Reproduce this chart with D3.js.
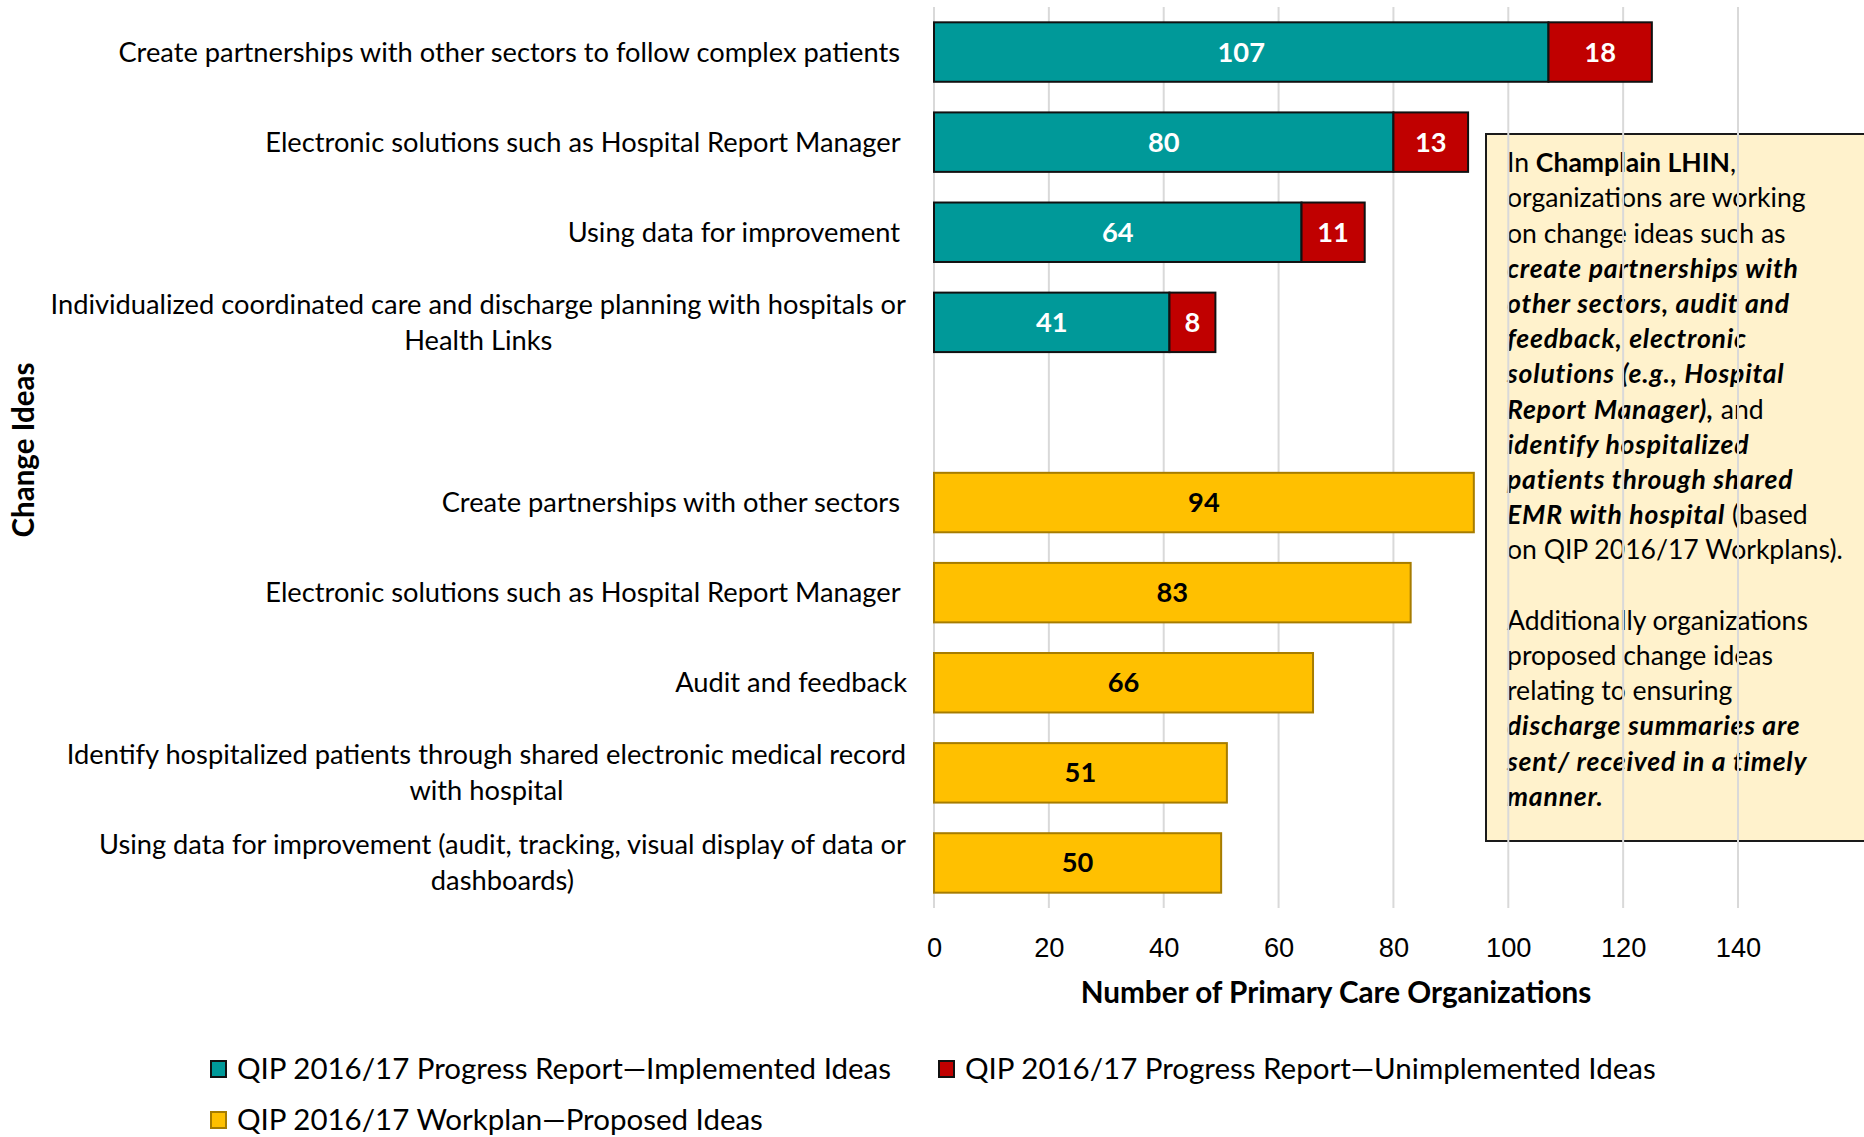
<!DOCTYPE html>
<html>
<head>
<meta charset="utf-8">
<script src="https://cdn.jsdelivr.net/npm/d3@7"></script>
<style>
body{margin:0;background:#fff;}
svg{display:block;font-family:Lato,"Open Sans",sans-serif;}
.cat text{white-space:pre;}
</style>
</head>
<body>
<div id="chart"></div>
<script>
// progress report ideas (teal + red stacked); trailing spaces kept as in the source labels
var progressIdeas = [
    "Create partnerships with other sectors to follow complex patients ",
    "Electronic solutions such as Hospital Report Manager ",
    "Using data for improvement ",
    "Individualized coordinated care and discharge planning with hospitals or\nHealth Links"
];
var implemented = [107, 80, 64, 41];
var unimplemented = [18, 13, 11, 8];

// workplan ideas (yellow)
var workplanIdeas = [
    "Create partnerships with other sectors ",
    "Electronic solutions such as Hospital Report Manager ",
    "Audit and feedback",
    "Identify hospitalized patients through shared electronic medical record\nwith hospital",
    "Using data for improvement (audit, tracking, visual display of data or\ndashboards)"
];
var proposed = [94, 83, 66, 51, 50];

var xTicks = [0, 20, 40, 60, 80, 100, 120, 140];
var legendLabels = [
    "QIP 2016/17 Progress Report\u2014Implemented Ideas",
    "QIP 2016/17 Progress Report\u2014Unimplemented Ideas",
    "QIP 2016/17 Workplan\u2014Proposed Ideas"
];
var xTitle = "Number of Primary Care Organizations";
var yTitle = "Change Ideas";

// text box, each line is a list of [text, style] pieces (b = bold, bi = bold italic)
var noteLines = [
    [["In ", ""], ["Champlain LHIN", "b"], [",", ""]],
    [["organizations are working", ""]],
    [["on change ideas such as", ""]],
    [["create partnerships with", "bi"]],
    [["other sectors, audit and", "bi"]],
    [["feedback, electronic", "bi"]],
    [["solutions  (e.g., Hospital", "bi"]],
    [["Report Manager),", "bi"], [" and", ""]],
    [["identify hospitalized", "bi"]],
    [["patients through shared", "bi"]],
    [["EMR with hospital", "bi"], [" (based", ""]],
    [["on QIP 2016/17 Workplans).", ""]],
    [],
    [["Additionally organizations", ""]],
    [["proposed change ideas", ""]],
    [["relating to ensuring", ""]],
    [["discharge summaries are", "bi"]],
    [["sent/ received in a timely", "bi"]],
    [["manner.", "bi"]]
];

var colors = {impl: "#009999", unimpl: "#C00000", prop: "#FFC000"};

var W = 1864, H = 1137;
var svg = d3.select("#chart").append("svg").attr("width", W).attr("height", H);

function textWidth(text, size, weight){
    var t = svg.append("text").attr("class", "cat").attr("font-size", size).attr("font-weight", weight || "normal")
        .style("white-space", "pre").text(text);
    var w = t.node().getComputedTextLength();
    t.remove();
    return w;
}
function fitSize(text, weight, target){
    return 100 * target / textWidth(text, 100, weight);
}

var catSize = fitSize("Create partnerships with other sectors to follow complex patients", "normal", 782);
var noteSize = fitSize(noteLines[11][0][0], "normal", 336);
var legSize = fitSize(legendLabels[1], "normal", 691);
var xTitleSize = fitSize(xTitle, "bold", 511);
var yTitleSize = fitSize(yTitle, "bold", 175);

// rows: progress ideas, a blank row, workplan ideas
var rows = [];
progressIdeas.forEach(function(d, i){ rows.push({key: "p" + i, label: d, group: "p", a: implemented[i], b: unimplemented[i]}); });
rows.push({key: "gap", label: "", group: "gap"});
workplanIdeas.forEach(function(d, i){ rows.push({key: "w" + i, label: d, group: "w", a: proposed[i]}); });

var x = d3.scaleLinear().domain([0, 140]).range([934, 1738]);
var y = d3.scaleBand().domain(rows.map(function(d){ return d.key; }))
    .range([7, 908]).paddingInner(0.34).paddingOuter(0.17);

// note box (gridlines run over it in the original)
var note = svg.append("g");
note.append("rect").attr("x", 1486).attr("y", 134).attr("width", 400).attr("height", 707)
    .attr("fill", "#FFF2CC").attr("stroke", "#1a1a1a").attr("stroke-width", 2);
var noteText = note.append("text").attr("font-size", noteSize).attr("fill", "#000");
noteLines.forEach(function(line, i){
    var first = true;
    line.forEach(function(seg){
        var ts = noteText.append("tspan").text(seg[0])
            .attr("font-weight", seg[1] ? "bold" : "normal")
            .attr("font-style", seg[1] == "bi" ? "italic" : "normal")
            .attr("letter-spacing", seg[1] == "bi" ? 0.8 : 0);
        if (first){
            ts.attr("x", 1507).attr("y", 163 + i * 35.2).attr("dy", "0.35em");
            first = false;
        }
    });
});

// gridlines
svg.append("g").selectAll("line").data(xTicks).enter().append("line")
    .attr("x1", function(d){ return x(d); }).attr("x2", function(d){ return x(d); })
    .attr("y1", 7).attr("y2", 908)
    .attr("stroke", "#D9D9D9").attr("stroke-width", 2);

// bars
var bars = svg.append("g");
var pRows = rows.filter(function(d){ return d.group == "p"; });
var wRows = rows.filter(function(d){ return d.group == "w"; });

bars.selectAll(".impl").data(pRows).enter().append("rect").attr("class", "impl")
    .attr("x", x(0)).attr("y", function(d){ return y(d.key); })
    .attr("width", function(d){ return x(d.a) - x(0); }).attr("height", y.bandwidth())
    .attr("fill", colors.impl).attr("stroke", "#111").attr("stroke-width", 2);
bars.selectAll(".unimpl").data(pRows).enter().append("rect").attr("class", "unimpl")
    .attr("x", function(d){ return x(d.a); }).attr("y", function(d){ return y(d.key); })
    .attr("width", function(d){ return x(d.a + d.b) - x(d.a); }).attr("height", y.bandwidth())
    .attr("fill", colors.unimpl).attr("stroke", "#111").attr("stroke-width", 2);
bars.selectAll(".prop").data(wRows).enter().append("rect").attr("class", "prop")
    .attr("x", x(0)).attr("y", function(d){ return y(d.key); })
    .attr("width", function(d){ return x(d.a) - x(0); }).attr("height", y.bandwidth())
    .attr("fill", colors.prop).attr("stroke", "#A67C00").attr("stroke-width", 2);

// value labels
var labs = svg.append("g").attr("font-weight", "bold").attr("font-size", catSize).attr("text-anchor", "middle");
labs.selectAll(".li").data(pRows).enter().append("text")
    .attr("x", function(d){ return x(d.a / 2); }).attr("y", function(d){ return y(d.key) + y.bandwidth() / 2; })
    .attr("dy", "0.35em").attr("fill", "#fff").text(function(d){ return d.a; });
labs.selectAll(".lu").data(pRows).enter().append("text")
    .attr("x", function(d){ return x(d.a + d.b / 2); }).attr("y", function(d){ return y(d.key) + y.bandwidth() / 2; })
    .attr("dy", "0.35em").attr("fill", "#fff").text(function(d){ return d.b; });
labs.selectAll(".lp").data(wRows).enter().append("text")
    .attr("x", function(d){ return x(d.a / 2); }).attr("y", function(d){ return y(d.key) + y.bandwidth() / 2; })
    .attr("dy", "0.35em").attr("fill", "#000").text(function(d){ return d.a; });

// category labels
var cats = svg.append("g").attr("class", "cat").attr("font-size", catSize).attr("fill", "#000");
rows.forEach(function(r){
    if (!r.label) return;
    var lines = r.label.split("\n");
    var cy = y(r.key) + y.bandwidth() / 2;
    if (lines.length == 1){
        cats.append("text").attr("x", 907).attr("y", cy).attr("dy", "0.35em")
            .attr("text-anchor", "end").text(lines[0]);
    } else {
        var wmax = d3.max(lines, function(l){ return textWidth(l, catSize); });
        var cx = 906 - wmax / 2;
        lines.forEach(function(l, j){
            cats.append("text").attr("x", cx).attr("y", cy + (j - (lines.length - 1) / 2) * 36)
                .attr("dy", "0.35em").attr("text-anchor", "middle").text(l);
        });
    }
});

// x axis ticks
var xAxis = svg.append("g").attr("transform", "translate(0,947)")
    .call(d3.axisBottom(x).tickValues(xTicks).tickSize(0).tickPadding(0));
xAxis.select(".domain").remove();
xAxis.selectAll("text").attr("font-size", catSize).attr("font-family", null).attr("fill", "#000").attr("dy", "0.35em");

svg.append("text").attr("x", 1336).attr("y", 993).attr("dy", "0.35em")
    .attr("text-anchor", "middle").attr("font-weight", "bold").attr("font-size", xTitleSize).text(xTitle);
svg.append("text").attr("transform", "translate(24,450) rotate(-90)").attr("dy", "0.35em")
    .attr("text-anchor", "middle").attr("font-weight", "bold").attr("font-size", yTitleSize).text(yTitle);

// legend
var legItems = [
    {label: legendLabels[0], fill: colors.impl, stroke: "#111", lx: 210, ly: 1069},
    {label: legendLabels[1], fill: colors.unimpl, stroke: "#111", lx: 938, ly: 1069},
    {label: legendLabels[2], fill: colors.prop, stroke: "#A67C00", lx: 210, ly: 1120}
];
var leg = svg.append("g").selectAll("g").data(legItems).enter().append("g")
    .attr("transform", function(d){ return "translate(" + d.lx + "," + d.ly + ")"; });
leg.append("rect").attr("x", 1).attr("y", -8).attr("width", 15).attr("height", 16)
    .attr("fill", function(d){ return d.fill; }).attr("stroke", function(d){ return d.stroke; }).attr("stroke-width", 2);
leg.append("text").attr("x", 27).attr("dy", "0.35em").attr("font-size", legSize)
    .text(function(d){ return d.label; });
</script>
</body>
</html>
